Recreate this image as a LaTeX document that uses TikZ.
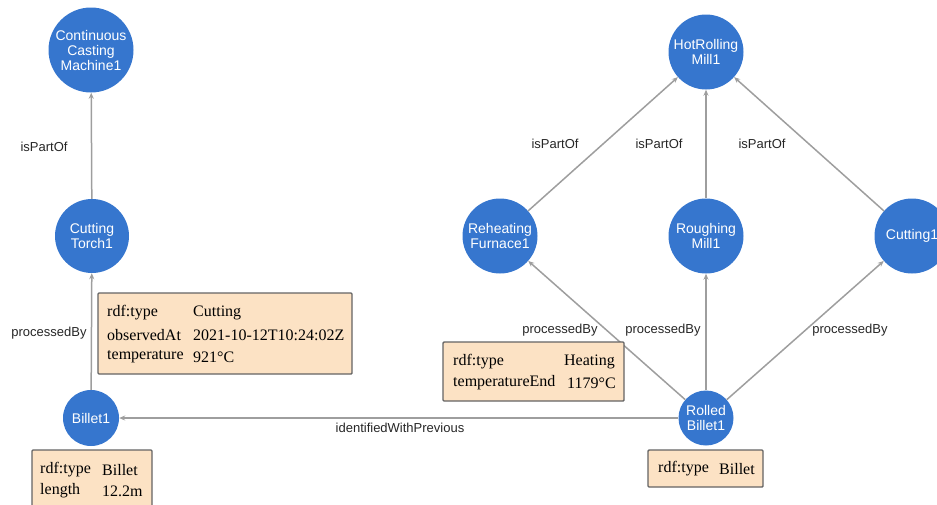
\documentclass[tikz,border=0pt]{standalone}
\usepackage{fontspec}
\setmainfont{Liberation Sans}
\newfontfamily\serifbox{Liberation Serif}
\usetikzlibrary{arrows.meta}
\definecolor{nodeblue}{RGB}{54,118,206}
\definecolor{edgegray}{RGB}{158,158,158}
\definecolor{peach}{RGB}{252,226,196}
\definecolor{boxborder}{RGB}{100,100,100}
\tikzset{
  ent/.style={circle, fill=nodeblue, draw=none, text=white, align=center,
    inner sep=0pt, font=\fontsize{14}{15}\selectfont},
  rel/.style={draw=edgegray, line width=1.5pt, -{Stealth[length=6pt,width=5pt]}},
  rlabel/.style={font=\fontsize{13}{14}\selectfont, text=black!85, inner sep=0pt},
  attrbox/.style={draw=boxborder, fill=peach, line width=1.4pt, rounded corners=1pt},
  attrtext/.style={font=\serifbox\fontsize{16}{21}\selectfont, anchor=west, inner sep=0pt, text=black}
}
\begin{document}
\begin{tikzpicture}[x=1pt,y=-1pt]
\useasboundingbox (0,0) rectangle (937,504);
% nodes
\node[ent, minimum size=85pt] (ccm) at (91,50) {Continuous\\Casting\\Machine1};
\node[ent, minimum size=74pt] (torch) at (92,236) {Cutting\\Torch1};
\node[ent, minimum size=56pt] (billet) at (91,418) {Billet1};
\node[ent, minimum size=75pt] (hrm) at (706,52) {HotRolling\\Mill1};
\node[ent, minimum size=75pt] (furnace) at (500,236) {Reheating\\Furnace1};
\node[ent, minimum size=75pt] (rough) at (706,236) {Roughing\\Mill1};
\node[ent, minimum size=75pt] (cut) at (912,236) {Cutting1};
\node[ent, minimum size=55pt] (rolled) at (706,418) {Rolled\\Billet1};
% edges
\draw[rel] (torch) -- (ccm);
\draw[rel] (billet) -- (torch);
\draw[rel] (rolled) -- (billet);
\draw[rel] (rolled) -- (furnace);
\draw[rel] (rolled) -- (rough);
\draw[rel] (rolled) -- (cut);
\draw[rel] (furnace) -- (hrm);
\draw[rel] (rough) -- (hrm);
\draw[rel] (cut) -- (hrm);
% edge labels
\node[rlabel] (l1) at (44,147) {isPartOf};
\node[rlabel] (l2) at (49,333) {processedBy};
\node[rlabel] (l3) at (555,144) {isPartOf};
\node[rlabel] (l4) at (659,144) {isPartOf};
\node[rlabel] (l5) at (762,144) {isPartOf};
\node[rlabel] (l6) at (560,330) {processedBy};
\node[rlabel] (l7) at (663,330) {processedBy};
\node[rlabel] (l8) at (850,330) {processedBy};
\node[rlabel] (l9) at (400,428) {identifiedWithPrevious};
% attribute boxes
\draw[attrbox] (98,293) rectangle (352,374);
\node[attrtext] (b1a) at (107,313) {rdf:type};
\node[attrtext] (b1b) at (193,313) {Cutting};
\node[attrtext] (b1c) at (107,335) {observedAt};
\node[attrtext] (b1d) at (193,335) {2021-10-12T10:24:02Z};
\node[attrtext] (b1e) at (107,357) {temperature};
\node[attrtext] (b1f) at (193,357) {921°C};

\draw[attrbox] (32,450) rectangle (152,512);
\node[attrtext] (b2a) at (40,470) {rdf:type};
\node[attrtext] (b2b) at (102,470) {Billet};
\node[attrtext] (b2c) at (40,491) {length};
\node[attrtext] (b2d) at (102,491) {12.2m};

\draw[attrbox] (443,342) rectangle (624,401);
\node[attrtext] (b3a) at (453,362) {rdf:type};
\node[attrtext, anchor=east] (b3b) at (615,362) {Heating};
\node[attrtext] (b3c) at (453,383) {temperatureEnd};
\node[attrtext] (b3d) at (567,383) {1179°C};

\draw[attrbox] (648,450) rectangle (763,487);
\node[attrtext] (b4a) at (658,469) {rdf:type};
\node[attrtext] (b4b) at (719,469) {Billet};
\end{tikzpicture}
\end{document}
